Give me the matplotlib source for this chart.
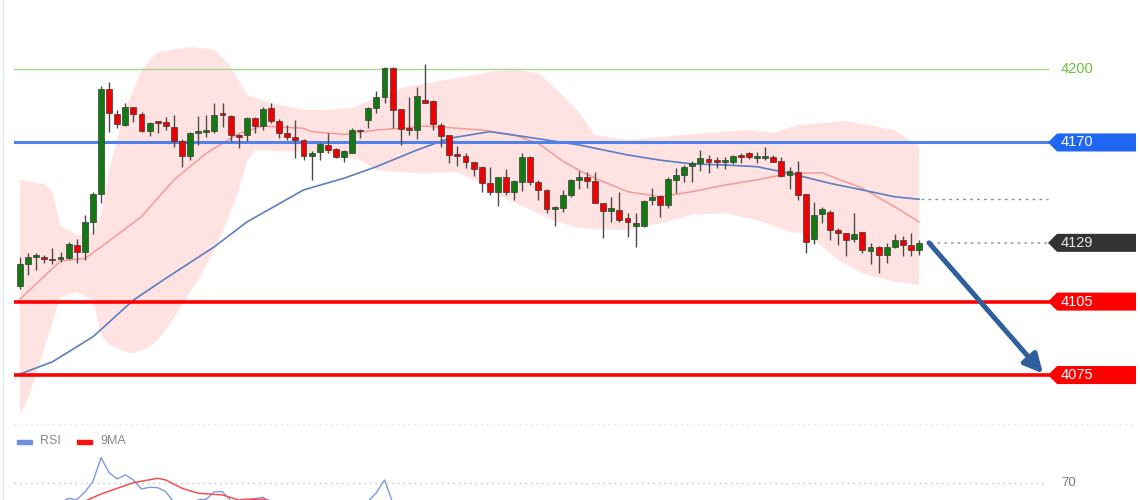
import matplotlib
matplotlib.use("Agg")
import matplotlib.pyplot as plt
from matplotlib.patches import Polygon, Rectangle
from matplotlib.transforms import blended_transform_factory

plt.rcParams['font.family'] = ['Liberation Sans', 'DejaVu Sans']

# candles, index 0 = leftmost bar
opens = [4111.4, 4120.3, 4123.4, 4123.3, 4122.4, 4122.5, 4122.7, 4128.1, 4125.4, 4137.6,
         4148.8, 4191.7, 4181.5, 4177.1, 4184.4, 4181.5, 4174.8, 4178.3, 4178.3, 4176.5,
         4170.6, 4164.6, 4174.0, 4174.3, 4174.7, 4181.9, 4180.9, 4172.9, 4172.9, 4179.9,
         4176.9, 4183.9, 4178.8, 4173.7, 4172.3, 4171.0, 4164.6, 4166.2, 4169.0, 4167.2,
         4163.9, 4165.8, 4175.1, 4179.2, 4184.2, 4188.4, 4200.3, 4183.5, 4175.8, 4175.1,
         4187.3, 4186.9, 4177.0, 4172.9, 4164.9, 4164.5, 4161.9, 4160.1, 4153.6, 4149.6,
         4155.8, 4149.9, 4154.0, 4164.2, 4154.0, 4150.6, 4142.7, 4143.1, 4148.5, 4154.7,
         4155.8, 4154.4, 4145.1, 4142.1, 4142.4, 4139.0, 4136.0, 4136.0, 4146.5, 4148.1,
         4144.4, 4154.7, 4156.7, 4160.4, 4161.5, 4163.2, 4162.4, 4162.1, 4162.1, 4164.9,
         4165.8, 4163.8, 4163.8, 4163.9, 4162.4, 4156.7, 4158.1, 4148.8, 4130.4, 4140.8,
         4141.7, 4134.2, 4132.9, 4130.4, 4133.3, 4125.8, 4127.2, 4124.0, 4127.1, 4130.1,
         4128.1, 4126.1]
highs = [4123.3, 4124.7, 4124.7, 4124.0, 4127.0, 4125.4, 4129.5, 4130.6, 4140.4, 4149.9,
         4193.1, 4194.8, 4183.3, 4186.0, 4184.6, 4182.6, 4178.5, 4178.3, 4180.3, 4181.2,
         4171.3, 4174.4, 4180.8, 4181.2, 4186.0, 4186.0, 4181.2, 4173.4, 4180.3, 4180.5,
         4184.6, 4186.3, 4179.5, 4177.1, 4179.2, 4171.4, 4166.6, 4169.6, 4174.0, 4167.6,
         4166.9, 4175.8, 4175.4, 4184.6, 4191.1, 4200.9, 4200.9, 4183.5, 4188.7, 4192.5,
         4202.0, 4187.3, 4177.8, 4173.0, 4168.5, 4165.8, 4162.1, 4160.4, 4160.1, 4156.0,
         4159.0, 4154.7, 4165.5, 4164.5, 4154.7, 4150.9, 4144.0, 4150.6, 4155.0, 4158.5,
         4158.1, 4158.1, 4145.4, 4147.8, 4149.9, 4141.1, 4141.1, 4146.5, 4151.3, 4148.5,
         4155.8, 4159.4, 4160.8, 4162.4, 4166.9, 4164.9, 4164.2, 4164.2, 4164.9, 4165.6,
         4166.2, 4166.2, 4168.3, 4164.9, 4164.2, 4160.1, 4162.4, 4148.8, 4145.8, 4143.5,
         4142.4, 4134.9, 4133.2, 4141.1, 4133.3, 4128.8, 4127.7, 4129.0, 4132.5, 4131.8,
         4132.9, 4130.1]
lows = [4110.0, 4115.9, 4117.9, 4120.9, 4120.3, 4121.3, 4122.4, 4120.6, 4122.0, 4132.6,
        4145.4, 4174.4, 4175.8, 4176.8, 4178.5, 4174.4, 4172.6, 4173.7, 4175.1, 4168.3,
        4160.1, 4162.8, 4169.0, 4172.1, 4173.7, 4176.4, 4170.6, 4167.6, 4170.4, 4174.0,
        4175.1, 4177.8, 4171.7, 4171.0, 4163.5, 4162.8, 4154.7, 4162.8, 4165.8, 4163.5,
        4161.9, 4165.6, 4171.7, 4175.8, 4181.9, 4186.0, 4175.8, 4169.0, 4173.0, 4171.3,
        4186.0, 4175.1, 4168.0, 4161.5, 4160.4, 4159.4, 4156.3, 4149.9, 4148.5, 4144.0,
        4148.5, 4146.5, 4150.3, 4152.6, 4146.5, 4141.3, 4135.9, 4141.7, 4147.6, 4150.9,
        4151.3, 4145.1, 4130.8, 4137.6, 4137.6, 4131.5, 4127.4, 4135.3, 4144.4, 4139.7,
        4143.1, 4149.5, 4154.0, 4154.0, 4158.5, 4157.6, 4159.4, 4159.0, 4161.2, 4161.5,
        4163.1, 4161.5, 4162.8, 4162.1, 4155.8, 4150.9, 4146.5, 4125.0, 4128.5, 4137.0,
        4130.1, 4128.1, 4123.6, 4129.5, 4124.7, 4120.3, 4116.5, 4120.9, 4126.8, 4123.6,
        4123.6, 4124.0]
closes = [4120.3, 4123.1, 4123.6, 4122.5, 4122.0, 4122.7, 4128.4, 4125.4, 4137.6, 4148.8,
          4191.8, 4181.9, 4177.4, 4184.4, 4181.5, 4174.8, 4177.8, 4178.0, 4176.7, 4170.7,
          4164.6, 4174.0, 4174.5, 4174.8, 4181.2, 4181.2, 4173.2, 4172.3, 4179.9, 4176.9,
          4183.5, 4178.8, 4173.7, 4172.1, 4171.0, 4164.6, 4165.8, 4169.4, 4166.9, 4164.2,
          4166.6, 4175.1, 4174.6, 4183.9, 4188.4, 4200.3, 4183.3, 4175.4, 4175.1, 4189.1,
          4186.2, 4177.5, 4172.6, 4164.9, 4164.5, 4162.1, 4159.2, 4153.6, 4149.9, 4155.8,
          4149.6, 4154.4, 4164.0, 4154.0, 4150.6, 4142.7, 4143.8, 4148.5, 4154.7, 4155.8,
          4154.4, 4145.4, 4142.0, 4143.1, 4138.3, 4137.6, 4137.0, 4146.1, 4147.8, 4144.4,
          4155.1, 4156.7, 4160.1, 4161.5, 4163.5, 4162.1, 4162.1, 4162.8, 4164.5, 4163.9,
          4163.9, 4164.2, 4164.4, 4162.1, 4156.3, 4158.5, 4148.5, 4129.5, 4140.4, 4142.8,
          4134.2, 4132.9, 4130.1, 4132.6, 4126.1, 4127.4, 4124.0, 4127.4, 4130.1, 4128.1,
          4126.1, 4129.0]

# moving averages (read at bar positions)
ma_red_idx = [0, 5, 8, 10, 15, 19, 23, 26, 27, 30, 35, 36, 40, 44, 47, 50, 54, 57, 61,
              64, 67, 69, 71, 75, 79, 83, 87, 91, 95, 99, 104, 108, 111]
ma_red = [4106.0, 4121.6, 4122.6, 4127.3, 4139.7, 4154.7, 4165.6, 4171.7, 4173.7, 4176.7,
          4175.8, 4174.4, 4173.3, 4175.1, 4175.8, 4176.7, 4175.8, 4175.1, 4173.0,
          4169.6, 4162.4, 4158.7, 4155.4, 4149.9, 4147.8, 4149.9, 4152.6, 4154.7, 4157.4,
          4157.6, 4151.3, 4143.7, 4137.6]
ma_blue_idx = [0, 4, 9, 14, 18, 24, 28, 35, 40, 44, 49, 53, 58, 61, 65, 69, 75, 79, 83,
               87, 91, 95, 100, 104, 108, 111]
ma_blue = [4075.4, 4080.4, 4090.6, 4105.6, 4114.5, 4127.4, 4137.5, 4150.6, 4155.4, 4160.1,
           4166.9, 4171.7, 4174.4, 4173.0, 4171.0, 4169.0, 4164.9, 4162.8, 4161.2,
           4160.8, 4160.1, 4157.4, 4153.3, 4150.6, 4147.8, 4146.8]

# bollinger band edges
bb_up_idx = [0, 3, 4, 5, 7, 9, 10, 11, 13, 15, 17, 21, 24, 26, 28, 31, 35, 38, 41, 44,
             47, 51, 54, 58, 61, 64, 67, 69, 71, 75, 79, 85, 90, 93, 96, 102, 108, 111]
bb_up = [4154.7, 4153.0, 4150.0, 4136.0, 4132.2, 4133.4, 4140.4, 4158.7, 4183.3, 4199.6,
         4206.9, 4209.0, 4207.8, 4201.0, 4189.4, 4186.1, 4183.3, 4183.3, 4184.1, 4188.2,
         4192.2, 4194.7, 4196.3, 4198.8, 4199.6, 4198.4, 4189.4, 4182.4, 4173.0, 4171.0,
         4172.3, 4173.9, 4175.1, 4173.9, 4177.1, 4178.8, 4175.1, 4168.3]
bb_lo_idx = [0, 1, 2, 3, 4, 5, 7, 9, 10, 11, 12, 13, 14, 15, 16, 17, 18, 19, 20, 21, 22,
             23, 24, 25, 26, 27, 28, 29, 35, 38, 42, 44, 46, 50, 54, 57, 59, 61, 64, 66,
             69, 72, 75, 79, 83, 87, 91, 95, 97, 101, 104, 108, 111]
bb_lo = [4058.7, 4065.2, 4075.6, 4086.0, 4096.4, 4106.9, 4108.9, 4105.6, 4091.3, 4087.3,
         4086.0, 4084.5, 4083.9, 4085.2, 4086.6, 4089.3, 4093.4, 4098.3, 4103.6, 4109.0,
         4113.8, 4119.9, 4126.1, 4133.4, 4141.6, 4150.6, 4162.0, 4166.9, 4166.1, 4165.6,
         4162.8, 4158.7, 4158.0, 4157.4, 4157.9, 4153.3, 4148.5, 4145.5, 4141.0, 4138.0,
         4135.0, 4134.5, 4134.2, 4137.0, 4140.4, 4141.1, 4138.3, 4133.5, 4132.9, 4122.0,
         4116.5, 4113.1, 4111.8]

support_lines = [4105, 4075]
resistance_line = 4170
top_line = 4200
last_price = 4129

# RSI panel (only the upper part is visible)
rsi_idx = [0, 3, 5, 6, 7, 8, 9, 10, 11, 12, 13, 14, 15, 16, 17, 18, 19, 20, 21, 22, 23,
           24, 25, 26, 27, 28, 30, 31, 34, 38, 42, 43, 44, 45, 46, 47, 52, 60, 70, 80,
           90, 97, 104, 111]
rsi = [45, 50, 55, 58.2, 57.0, 63.0, 71.0, 89.5, 77.9, 73.1, 76.2, 72.3, 65.4, 66.7,
       66.4, 63.3, 55.0, 51.0, 53.0, 57.0, 57.5, 63.3, 63.3, 56.5, 54.0, 57.0, 59.0, 55.0,
       50.0, 47.0, 52.0, 56.0, 62.5, 72.3, 55.0, 50.0, 44.0, 40.0, 45.0, 50.0, 52.0, 35.0,
       38.0, 40.0]
rsi_ma_idx = [0, 8, 10, 12, 14, 17, 18, 20, 22, 25, 27, 28, 30, 32, 36, 45, 55, 70, 90, 111]
rsi_ma = [50, 56.0, 61.5, 65.9, 70.2, 73.6, 72.3, 65.9, 62.1, 60.8, 56.9, 57.5, 57.5,
          55.0, 53.0, 54.0, 50.0, 46.0, 50.0, 42.0]

W, H = 1140, 500
fig = plt.figure(figsize=(W / 100, H / 100), dpi=100)
fig.patch.set_facecolor('white')

ax = fig.add_axes([14 / W, 76 / H, 1126 / W, 424 / H])
ax.set_xlim(-0.741, 138.27)
ax.set_ylim(4055.0, 4228.19)
ax.axis('off')
tr = blended_transform_factory(fig.transFigure, ax.transData)

# band
ax.fill(bb_up_idx + bb_lo_idx[::-1], bb_up + bb_lo[::-1],
        color='#ffe3e3', lw=0, zorder=1)

ax.plot(ma_red_idx, ma_red, color='#f59a94', lw=1.1, zorder=2)
ax.plot(ma_blue_idx, ma_blue, color='#5b7fbf', lw=1.2, zorder=2)

# horizontal levels
x0, x1 = 14 / W, 1048 / W
ax.plot([x0, x1], [top_line, top_line], color='#a8d68c', lw=1, transform=tr, zorder=2)
ax.plot([x0, x1], [resistance_line] * 2, color='#4f82ea', lw=2.2, transform=tr, zorder=2)
for lvl in support_lines:
    ax.plot([x0, x1], [lvl, lvl], color='#ff0000', lw=2.6, transform=tr, zorder=2)
ax.plot([921 / W, x1], [ma_blue[-1]] * 2, color='#7090d0', lw=1, ls=(0, (2, 3)),
        transform=tr, zorder=2)
ax.plot([931 / W, x1], [last_price] * 2, color='#a0a0a0', lw=1.2, ls=(0, (1.5, 2.5)),
        transform=tr, zorder=2)

# candles
for i, (o, h, l, c) in enumerate(zip(opens, highs, lows, closes)):
    ax.vlines(i, l, h, color='#4a4a4a', lw=1, zorder=3)
    col = '#137a13' if c >= o else '#f00000'
    ax.add_patch(Rectangle((i - 0.36, min(o, c)), 0.72, max(abs(c - o), 0.6),
                           facecolor=col, edgecolor='#3a3a3a', lw=0.5, zorder=4))

# price tags on the right
hh = 9 / 2.448


def tag(y, text, fc, tc='white'):
    pts = [(1048 / W, y), (1057 / W, y + hh), (1136 / W, y + hh),
           (1136 / W, y - hh), (1057 / W, y - hh)]
    ax.add_patch(Polygon(pts, closed=True, facecolor=fc, edgecolor='none',
                         transform=tr, zorder=5))
    ax.text(1061 / W, y, text, color=tc, fontsize=10.5, va='center', ha='left',
            transform=tr, zorder=6)


ax.text(1061 / W, top_line, str(top_line), color='#6cbb3c', fontsize=10.5,
        va='center', ha='left', transform=tr)
tag(resistance_line, str(resistance_line), '#1f66f2')
tag(last_price, str(last_price), '#333333', '#e6e6e6')
for lvl in support_lines:
    tag(lvl, str(lvl), '#ff0000')

# forecast arrow
ax.annotate('', xy=(1043 / W, support_lines[1] + 0.6), xycoords=tr,
            xytext=(929 / W, last_price), textcoords=tr,
            arrowprops=dict(arrowstyle='-|>', color='#2f5f9c', lw=3.6,
                            mutation_scale=28, shrinkA=0, shrinkB=0), zorder=7)

# separators / borders
fig.add_artist(plt.Line2D([14 / W, 1 - 4 / W], [76 / H, 76 / H], color='#e2e2e2',
                          lw=1, ls=(0, (1, 3))))
fig.add_artist(plt.Line2D([3 / W, 3 / W], [0, 1], color='#e3eaea', lw=1))

# RSI panel
rax = fig.add_axes([14 / W, 0, 1126 / W, 45 / H])
rax.set_xlim(-0.741, 138.27)
rax.set_ylim(56.9, 91.5)
rax.axis('off')
rtr = blended_transform_factory(fig.transFigure, rax.transData)
rax.plot([x0, 1045 / W], [70, 70], color='#c4c4c4', lw=1, ls=(0, (1, 3)), transform=rtr)
rax.text(1061 / W, 70, '70', color='#777777', fontsize=9.5, va='center', transform=rtr)
rax.plot(rsi_idx, rsi, color='#7d9be6', lw=1)
rax.plot(rsi_ma_idx, rsi_ma, color='#f25050', lw=1.1)

fig.add_artist(Rectangle((17 / W, 56 / H), 15 / W, 4.5 / H, color='#6f8fe0',
                         transform=fig.transFigure))
fig.text(40 / W, 58.5 / H, 'RSI', color='#888888', fontsize=9, va='center')
fig.add_artist(Rectangle((77 / W, 56 / H), 15 / W, 4.5 / H, color='#ff1010',
                         transform=fig.transFigure))
fig.text(100 / W, 58.5 / H, '9MA', color='#888888', fontsize=9, va='center')

fig.savefig('out.png', dpi=100, facecolor='white')
